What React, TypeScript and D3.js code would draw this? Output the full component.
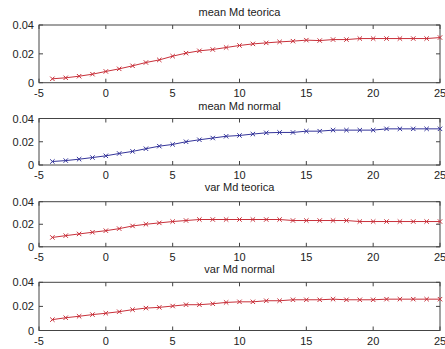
import React from "react";
import * as d3 from "d3";

const xValues = [-4, -3, -2, -1, 0, 1, 2, 3, 4, 5, 6, 7, 8, 9, 10, 11, 12, 13, 14, 15, 16, 17, 18, 19, 20, 21, 22, 23, 24, 25];

const meanTeorica = [0.0027, 0.0034, 0.0045, 0.0059, 0.0078, 0.0096, 0.0117, 0.014, 0.0158, 0.0184, 0.0205, 0.0221, 0.023, 0.0244, 0.0258, 0.0269, 0.0276, 0.0283, 0.0288, 0.0295, 0.0292, 0.0299, 0.0299, 0.0306, 0.0306, 0.0306, 0.0306, 0.0306, 0.0306, 0.0313];
const meanNormal = [0.003, 0.0038, 0.005, 0.0064, 0.0079, 0.0099, 0.0117, 0.014, 0.0162, 0.0177, 0.02, 0.0217, 0.0232, 0.0247, 0.0254, 0.0266, 0.0277, 0.028, 0.028, 0.0291, 0.0291, 0.03, 0.03, 0.03, 0.03, 0.0311, 0.0311, 0.0311, 0.0311, 0.0311];
const varTeorica = [0.0083, 0.0099, 0.0114, 0.0129, 0.0143, 0.0161, 0.0185, 0.02, 0.0212, 0.0224, 0.0233, 0.0242, 0.0242, 0.0242, 0.0242, 0.0242, 0.0242, 0.0242, 0.0233, 0.0233, 0.0233, 0.0233, 0.0233, 0.0224, 0.0224, 0.0224, 0.0224, 0.0224, 0.0224, 0.0224];
const varNormal = [0.009, 0.0106, 0.0118, 0.0132, 0.0143, 0.0156, 0.0173, 0.0186, 0.0192, 0.0203, 0.0214, 0.0214, 0.0222, 0.0233, 0.0238, 0.0238, 0.0247, 0.0247, 0.0255, 0.0255, 0.0255, 0.026, 0.0255, 0.0255, 0.0255, 0.026, 0.026, 0.026, 0.026, 0.026];

const titles = ["mean Md teorica", "mean Md normal", "var Md teorica", "var Md normal"];
const seriesList = [meanTeorica, meanNormal, varTeorica, varNormal];
const colors = ["#c8303a", "#34349a", "#c8303a", "#c8303a"];
const xTicks = [-5, 0, 5, 10, 15, 20, 25];
const yTicks = [0, 0.02, 0.04];
const yTickLabels = ["0", "0.02", "0.04"];

const panels = [
  { top: 25, bottom: 82.7, titleY: 16 },
  { top: 118.5, bottom: 165, titleY: 109.7 },
  { top: 201.7, bottom: 246.8, titleY: 191.3 },
  { top: 282.3, bottom: 330.5, titleY: 273 },
];

const LEFT = 39;
const RIGHT = 440;
const FONT = "'Liberation Sans', Arial, sans-serif";

function Panel({ idx }: { idx: number }) {
  const p = panels[idx];
  const data = seriesList[idx];
  const x = d3.scaleLinear().domain([-5, 25]).range([LEFT, RIGHT]);
  const y = d3.scaleLinear().domain([0, 0.04]).range([p.bottom, p.top]);
  const line = d3
    .line<number>()
    .x((_, i) => x(xValues[i]))
    .y((d) => y(d));
  const tl = 4;
  const m = 2.2;
  return (
    <g>
      <rect x={LEFT} y={p.top} width={RIGHT - LEFT} height={p.bottom - p.top} fill="#fff" stroke="#444" strokeWidth={1} />
      {xTicks.map((t) => (
        <g key={"x" + t}>
          <line x1={x(t)} x2={x(t)} y1={p.bottom} y2={p.bottom - tl} stroke="#444" />
          <line x1={x(t)} x2={x(t)} y1={p.top} y2={p.top + tl} stroke="#444" />
          <text x={x(t)} y={p.bottom + 14} textAnchor="middle" fontSize={11} fontFamily={FONT} fill="#222">
            {t}
          </text>
        </g>
      ))}
      {yTicks.map((t, i) => (
        <g key={"y" + t}>
          <line x1={LEFT} x2={LEFT + tl} y1={y(t)} y2={y(t)} stroke="#444" />
          <line x1={RIGHT} x2={RIGHT - tl} y1={y(t)} y2={y(t)} stroke="#444" />
          <text x={LEFT - 5} y={y(t) + 4} textAnchor="end" fontSize={11} fontFamily={FONT} fill="#222">
            {yTickLabels[i]}
          </text>
        </g>
      ))}
      <path d={line(data) || ""} fill="none" stroke={colors[idx]} strokeWidth={1} />
      {data.map((d, i) => {
        const cx = x(xValues[i]);
        const cy = y(d);
        return (
          <path
            key={i}
            d={`M${cx - m},${cy - m}L${cx + m},${cy + m}M${cx - m},${cy + m}L${cx + m},${cy - m}`}
            stroke={colors[idx]}
            strokeWidth={1}
            fill="none"
          />
        );
      })}
      <text x={(LEFT + RIGHT) / 2} y={p.titleY} textAnchor="middle" fontSize={11} fontFamily={FONT} fill="#222">
        {titles[idx]}
      </text>
    </g>
  );
}

export default function App() {
  return (
    <svg
      width={445}
      height={349}
      style={{ position: "absolute", left: 0, top: 0, display: "block", background: "#fff" }}
    >
      <rect x={0} y={0} width={445} height={349} fill="#fff" />
      {panels.map((_, i) => (
        <Panel key={i} idx={i} />
      ))}
    </svg>
  );
}
